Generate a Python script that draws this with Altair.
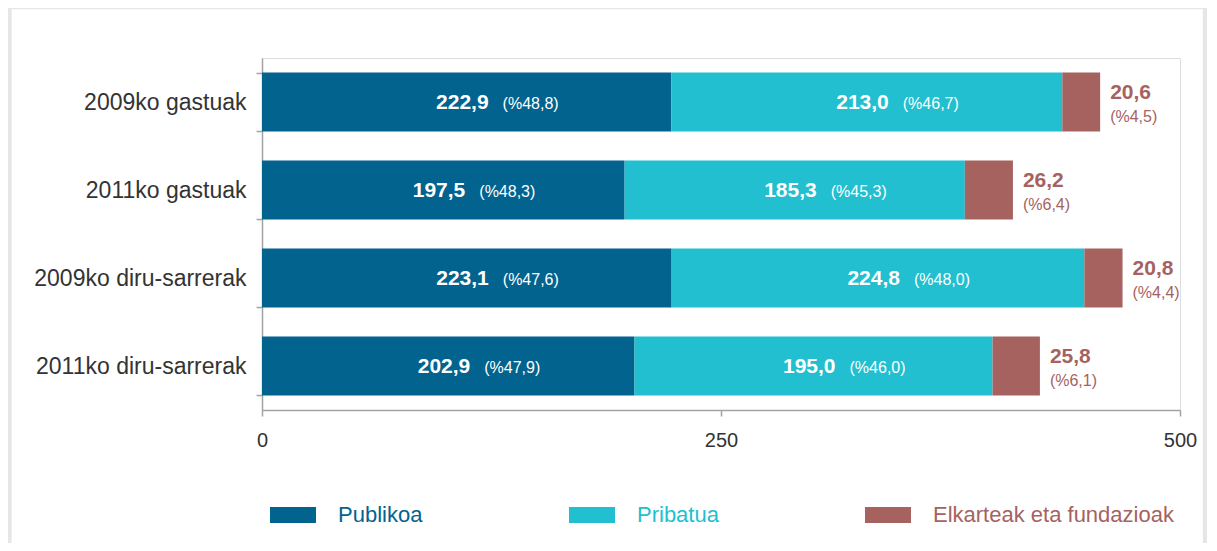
import altair as alt
import pandas as pd

categories = ["2009ko gastuak", "2011ko gastuak", "2009ko diru-sarrerak", "2011ko diru-sarrerak"]
series = ["Publikoa", "Pribatua", "Elkarteak eta fundazioak"]
publikoa = [222.9, 197.5, 223.1, 202.9]
pribatua = [213.0, 185.3, 224.8, 195.0]
elkarteak = [20.6, 26.2, 20.8, 25.8]
pct_publikoa = ["48,8", "48,3", "47,6", "47,9"]
pct_pribatua = ["46,7", "45,3", "48,0", "46,0"]
pct_elkarteak = ["4,5", "6,4", "4,4", "6,1"]
x_ticks = [0, 250, 500]
colors = ["#02638e", "#21bfcf", "#a6625f"]

rows = []
for s_i, (name, vals, pcts) in enumerate(zip(series, [publikoa, pribatua, elkarteak],
                                             [pct_publikoa, pct_pribatua, pct_elkarteak])):
    for c, v, p in zip(categories, vals, pcts):
        rows.append({"cat": c, "series": name, "idx": s_i, "value": v,
                     "num": f"{v:.1f}".replace(".", ","), "pct": f"(%{p})"})
df = pd.DataFrame(rows)

FONT = "Liberation Sans"
AXIS_GRAY = "#a3a3a3"

base = alt.Chart(df).transform_stack(
    stack="value", groupby=["cat"], sort=[alt.SortField("idx", order="ascending")],
    as_=["x0", "x1"]
).transform_calculate(mid="(datum.x0 + datum.x1) / 2")

y_enc = alt.Y("cat:N", sort=categories,
              scale=alt.Scale(paddingInner=0.33, paddingOuter=0.165),
              axis=alt.Axis(title=None, tickBand="extent", labelFont=FONT, labelFontSize=23,
                            labelColor="#333333", labelPadding=10, tickSize=6, labelLimit=400,
                            tickColor=AXIS_GRAY, domainColor=AXIS_GRAY, domainWidth=1.5,
                            tickWidth=1.5, grid=False))
x_scale = alt.Scale(domain=[0, 500], nice=False)

label_color_expr = "scale('color', datum.value)"

bars = base.mark_bar().encode(
    x=alt.X("x0:Q", scale=x_scale,
            axis=alt.Axis(title=None, values=x_ticks, labelFont=FONT, labelFontSize=20,
                          labelColor="#333333", tickSize=6, labelPadding=14, labelFlush=False,
                          tickColor=AXIS_GRAY, domainColor=AXIS_GRAY, domainWidth=1.5,
                          tickWidth=1.5, grid=False)),
    x2="x1:Q",
    y=y_enc,
    color=alt.Color("series:N", sort=series,
                    scale=alt.Scale(domain=series, range=colors),
                    legend=alt.Legend(title=None, orient="none", legendX=8, legendY=434,
                                      direction="horizontal", columns=3, gridAlign="each",
                                      symbolType="M-1,-0.348H1V0.348H-1Z", symbolSize=2116,
                                      symbolStrokeWidth=0, symbolOpacity=1,
                                      labelFont=FONT, labelFontSize=22, labelOffset=22,
                                      labelLimit=400,
                                      labelColor=alt.ExprRef(expr=label_color_expr),
                                      columnPadding=146)),
)

inner = base.transform_filter("datum.idx < 2")
num_in = inner.mark_text(align="right", baseline="middle", dx=22, dy=1, font=FONT,
                         fontSize=21, fontWeight="bold", color="white").encode(
    x="mid:Q", y=alt.Y("cat:N", sort=categories), text="num:N")
pct_in = inner.mark_text(align="left", baseline="middle", dx=36, dy=2, font=FONT,
                         fontSize=16, color="white").encode(
    x="mid:Q", y=alt.Y("cat:N", sort=categories), text="pct:N")

outer = base.transform_filter("datum.idx == 2")
num_out = outer.mark_text(align="left", baseline="middle", dx=10, dy=-9, font=FONT,
                          fontSize=21, fontWeight="bold", color=colors[2]).encode(
    x="x1:Q", y=alt.Y("cat:N", sort=categories), text="num:N")
pct_out = outer.mark_text(align="left", baseline="middle", dx=10, dy=15, font=FONT,
                          fontSize=16, color=colors[2]).encode(
    x="x1:Q", y=alt.Y("cat:N", sort=categories), text="pct:N")

frame = alt.Chart(pd.DataFrame({"a": [0]})).mark_rect(
    fillOpacity=0, stroke="#e5e6e8", strokeWidth=4.3).encode(
    x=alt.value(-252.5), x2=alt.value(943), y=alt.value(-51), y2=alt.value(600))

chart = alt.layer(frame, bars, num_in, pct_in, num_out, pct_out).properties(
    width=918, height=352,
    autosize=alt.AutoSizeParams(type="none"),
    padding={"left": 254, "top": 50, "right": 27, "bottom": 133},
).configure_view(stroke=None).configure(background="white")

chart.save("out.html", embed_options={"renderer": "svg", "actions": False})
